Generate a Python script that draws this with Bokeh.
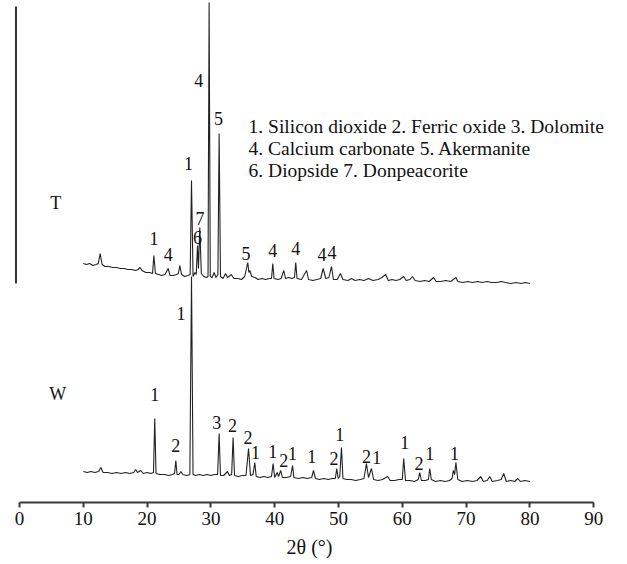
from bokeh.plotting import figure
from bokeh.models import Range1d, FixedTicker
from bokeh.core.properties import value
from bokeh.embed import file_html
from bokeh.resources import INLINE

# ---------------- data ----------------
x_ticks = [0, 10, 20, 30, 40, 50, 60, 70, 80, 90]

# Sample T (upper pattern): 2theta, intensity (a.u.)
t_theta = [10.0, 10.5, 11.0, 11.5, 12.0, 12.35, 12.64, 12.95, 13.4, 14.0, 14.6, 15.2, 15.8, 16.4,
           17.0, 17.6, 18.2, 18.6, 18.9, 19.2, 19.8, 20.4, 20.85, 21.06, 21.3, 21.8, 22.3, 22.8,
           23.3, 23.6, 24.1, 24.6, 24.9, 25.13, 25.4, 25.9, 26.4, 26.75, 26.96, 27.2, 27.5, 27.7,
           27.9, 28.05, 28.26, 28.5, 28.9, 29.3, 29.55, 29.72, 29.9, 30.2, 30.5, 30.8, 31.1, 31.29,
           31.5, 31.9, 32.3, 32.6, 33.2, 33.6, 34.2, 34.8, 35.3, 35.78, 35.95, 36.1, 36.4, 36.9,
           37.4, 38.0, 38.6, 39.2, 39.5, 39.7, 39.9, 40.5, 41.0, 41.42, 41.7, 42.2, 42.7, 43.1,
           43.3, 43.5, 44.2, 45.0, 45.3, 46.0, 46.6, 47.2, 47.6, 48.0, 48.5, 48.9, 49.2, 49.8,
           50.3, 50.7, 51.5, 52.0, 52.6, 53.3, 54.0, 54.7, 55.4, 56.2, 56.8, 57.4, 57.8, 58.4,
           59.0, 59.6, 60.2, 60.6, 61.2, 61.6, 62.0, 62.8, 63.5, 64.2, 64.9, 65.3, 66.0, 66.8,
           67.6, 68.4, 68.7, 69.5, 70.3, 71.0, 71.8, 72.5, 73.3, 74.0, 74.8, 75.5, 76.2, 77.0,
           77.8, 78.6, 79.3, 80.0]
t_int = [239, 238, 239, 237, 238, 239, 249, 238, 236, 236, 235, 235, 234, 234,
         233, 233, 232, 233, 235, 232, 230, 230, 229, 247, 229, 228, 227, 228,
         234, 227, 227, 228, 229, 237, 228, 226, 227, 228, 322, 226, 230, 228,
         257, 234, 275, 229, 226, 225, 226, 500, 226, 225, 230, 225, 228, 369,
         226, 224, 229, 225, 228, 224, 224, 223, 226, 240, 230, 232, 226, 225,
         223, 224, 223, 224, 224, 239, 224, 223, 224, 232, 224, 225, 224, 225,
         240, 224, 223, 232, 223, 222, 223, 224, 234, 224, 225, 236, 223, 223,
         229, 223, 222, 224, 222, 223, 222, 224, 222, 223, 225, 228, 222, 223,
         222, 223, 226, 222, 223, 226, 222, 221, 222, 221, 225, 221, 221, 222,
         221, 225, 221, 220, 221, 220, 221, 220, 221, 220, 220, 221, 220, 219,
         220, 219, 220, 219]

# Sample W (lower pattern): 2theta, intensity (a.u.)
w_theta = [10.0, 10.6, 11.2, 11.8, 12.4, 12.75, 13.1, 13.8, 14.5, 15.2, 15.9, 16.6, 17.3, 17.9,
           18.2, 18.5, 19.0, 19.4, 20.0, 20.6, 21.0, 21.2, 21.4, 22.0, 22.7, 23.4, 24.0, 24.3,
           24.5, 24.7, 25.0, 25.3, 25.6, 26.2, 26.7, 26.96, 27.2, 27.6, 28.2, 28.8, 29.4, 30.0,
           30.6, 31.05, 31.29, 31.5, 32.0, 32.6, 32.9, 33.25, 33.48, 33.7, 34.3, 34.9, 35.5, 35.9,
           36.2, 36.6, 36.88, 37.1, 37.7, 38.3, 38.9, 39.5, 39.75, 40.0, 40.4, 40.6, 40.95, 41.2,
           41.8, 42.5, 42.8, 43.0, 43.7, 44.4, 45.1, 45.8, 46.08, 46.4, 47.0, 47.7, 48.4, 49.0,
           49.5, 49.73, 49.95, 50.2, 50.46, 50.7, 51.3, 52.0, 52.7, 53.4, 54.0, 54.38, 54.7, 55.16,
           55.5, 56.2, 56.9, 57.7, 58.1, 58.8, 59.5, 60.0, 60.22, 60.5, 61.2, 61.9, 62.5, 62.73,
           63.0, 63.6, 64.1, 64.3, 64.55, 65.2, 66.0, 66.7, 67.4, 67.8, 68.0, 68.2, 68.4, 68.7,
           69.4, 70.2, 71.0, 71.7, 72.3, 72.7, 73.3, 73.7, 74.1, 74.9, 75.5, 75.9, 76.3, 77.0,
           77.6, 78.1, 78.5, 79.2, 80.0]
w_int = [31, 30, 31, 30, 31, 35, 30, 30, 29, 30, 29, 30, 29, 30,
         33, 30, 32, 29, 30, 29, 30, 84, 29, 28, 28, 27, 28, 29,
         42, 28, 28, 31, 28, 27, 28, 226, 28, 27, 28, 27, 28, 27,
         28, 28, 69, 27, 27, 31, 27, 28, 65, 27, 26, 27, 27, 54,
         27, 28, 40, 26, 25, 26, 25, 26, 39, 25, 30, 26, 32, 25,
         25, 26, 37, 25, 24, 25, 24, 25, 32, 24, 23, 24, 23, 24,
         24, 34, 24, 26, 55, 24, 23, 23, 22, 23, 24, 39, 25, 34,
         23, 22, 23, 26, 22, 22, 23, 23, 44, 22, 22, 21, 23, 30,
         22, 22, 23, 34, 23, 21, 22, 21, 22, 24, 32, 28, 40, 23,
         21, 22, 21, 22, 26, 21, 22, 26, 21, 22, 23, 29, 21, 22,
         21, 24, 21, 22, 21]

# Phase labels on sample T
t_lab_theta = [21.1, 23.3, 26.5, 27.9, 28.3, 28.1, 31.2, 35.5, 39.7, 43.3, 47.4, 49.0]
t_lab_int = [264, 248, 339, 265, 284, 422, 384, 249, 252, 254, 248, 250]
t_lab_text = ["1", "4", "1", "6", "7", "4", "5", "5", "4", "4", "4", "4"]

# Phase labels on sample W
w_lab_theta = [21.2, 24.5, 25.3, 30.9, 33.4, 35.8, 37.0, 39.7, 41.4, 42.8, 45.8,
               49.3, 50.2, 54.4, 56.0, 60.4, 62.6, 64.3, 68.2]
w_lab_int = [108, 57, 189, 80, 77, 65, 50, 51, 42, 49, 46,
             44, 68, 46, 45, 60, 39, 49, 49]
w_lab_text = ["1", "2", "1", "3", "2", "2", "1", "1", "2", "1", "1",
              "2", "1", "2", "1", "1", "2", "1", "1"]

sample_names = ["T", "W"]
sample_theta = [5.7, 6.0]
sample_int = [300, 109]

legend_lines = ["1. Silicon dioxide 2. Ferric oxide 3. Dolomite",
                "4. Calcium carbonate 5. Akermanite",
                "6. Diopside 7. Donpeacorite"]
legend_theta = [35.9, 35.9, 35.9]
legend_int = [376, 354.5, 332.5]

# stray vertical rule at the left edge of the original figure
rule_theta = [-0.55]
rule_bottom = [219]
rule_top = [496]

# ---------------- figure ----------------
FONT = "Liberation Serif"
p = figure(width=627, height=564,
           x_range=Range1d(-1.5674, 92.476), y_range=Range1d(0, 502),
           output_backend="svg", toolbar_location=None, y_axis_location=None,
           min_border_left=9, min_border_right=18, min_border_top=0, min_border_bottom=62)
p.outline_line_color = None
p.grid.visible = False
p.background_fill_color = "white"
p.border_fill_color = "white"

ax = p.xaxis[0]
ax.bounds = (0, 90)
ax.ticker = FixedTicker(ticks=x_ticks)
ax.minor_tick_line_color = None
ax.major_tick_in = 0
ax.major_tick_out = 5
ax.axis_line_width = 2
ax.axis_line_color = "#3a3a3a"
ax.major_tick_line_width = 2
ax.major_tick_line_color = "#3a3a3a"
ax.major_label_text_font = FONT
ax.major_label_text_font_size = "19px"
ax.major_label_text_color = "#111111"
ax.major_label_standoff = 4
ax.axis_label = "2θ (°)"
ax.axis_label_text_font = FONT
ax.axis_label_text_font_size = "20px"
ax.axis_label_text_font_style = "normal"
ax.axis_label_text_color = "#111111"
ax.axis_label_standoff = 8

p.segment(x0=rule_theta, y0=rule_bottom, x1=rule_theta, y1=rule_top,
          line_color="#333333", line_width=2)

p.line(w_theta, w_int, line_color="#222222", line_width=1.1)
p.line(t_theta, t_int, line_color="#222222", line_width=1.1)

lab_kw = dict(text_font=value(FONT), text_font_size=value("18px"), text_color="#111111",
              text_align="center", text_baseline="middle")
p.text(x=t_lab_theta, y=t_lab_int, text=t_lab_text, **lab_kw)
p.text(x=w_lab_theta, y=w_lab_int, text=w_lab_text, **lab_kw)
p.text(x=sample_theta, y=sample_int, text=sample_names, **lab_kw)

p.text(x=legend_theta, y=legend_int, text=legend_lines,
       text_font=value(FONT), text_font_size=value("19.5px"), text_color="#111111",
       text_align="left", text_baseline="middle")

open("out.html", "w").write(file_html(p, INLINE))
